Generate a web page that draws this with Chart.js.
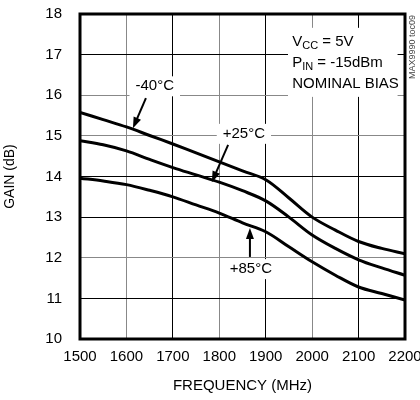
<!DOCTYPE html>
<html>
<head>
<meta charset="utf-8">
<script src="https://cdn.jsdelivr.net/npm/chart.js@4.4.1/dist/chart.umd.min.js"></script>
<style>
  html, body { margin: 0; padding: 0; background: #fff; }
  #wrap { width: 420px; height: 400px; }
</style>
</head>
<body>
<div id="wrap"><canvas id="grafico" width="420" height="400"></canvas></div>
<script>
// -------- DADOS --------
const freqs = [1500, 1550, 1600, 1650, 1700, 1750, 1800, 1850, 1900, 1950, 2000, 2050, 2100, 2150, 2200];
const gainM40 = [15.58, 15.40, 15.22, 15.01, 14.80, 14.58, 14.36, 14.14, 13.92, 13.47, 13.00, 12.68, 12.40, 12.23, 12.10];
const gainP25 = [14.88, 14.78, 14.63, 14.42, 14.22, 14.04, 13.86, 13.65, 13.40, 13.00, 12.56, 12.23, 11.95, 11.75, 11.57];
const gainP85 = [13.96, 13.89, 13.80, 13.66, 13.50, 13.30, 13.10, 12.86, 12.64, 12.27, 11.90, 11.57, 11.28, 11.12, 10.96];

const xMin = 1500, xMax = 2200, xStep = 100;
const yMin = 10, yMax = 18, yStep = 1;

// rotulos das curvas: texto, centro (freq, ganho), seta (cauda -> ponta)
const curveLabels = [
  { text: "-40°C", x: 1661, y: 16.22, from: [1642, 15.93], to: [1614, 15.19] },
  { text: "+25°C", x: 1853, y: 15.05, from: [1819, 14.78], to: [1784, 13.86] },
  { text: "+85°C", x: 1868, y: 11.72, from: [1866, 12.02], to: [1866, 12.73] }
];
const condLines = ["VCC", "PIN", "NOMINAL BIAS"];
const condBox = { x0: 1948, x1: 2184, y0: 15.96, y1: 17.66, textX: 1957, rows: [17.31, 16.79, 16.28] };
const watermark = "MAX9990 toc09";

// cinza / preto alternado como no original
const grayX = [1600, 1800, 2000];
const grayY = [15, 16, 12];

const FONTE = '"Liberation Sans", Arial, sans-serif';

function serie(vals) {
  return vals.map((v, i) => ({ x: freqs[i], y: v }));
}

// -------- PLUGIN: anotacoes e moldura --------
function seta(ctx, x1, y1, x2, y2) {
  const ang = Math.atan2(y2 - y1, x2 - x1);
  const len = 11, w = 4;
  ctx.strokeStyle = "#000";
  ctx.fillStyle = "#000";
  ctx.lineWidth = 2;
  ctx.beginPath();
  ctx.moveTo(x1, y1);
  ctx.lineTo(x2 - Math.cos(ang) * len * 0.8, y2 - Math.sin(ang) * len * 0.8);
  ctx.stroke();
  ctx.beginPath();
  ctx.moveTo(x2, y2);
  ctx.lineTo(x2 - Math.cos(ang) * len + Math.sin(ang) * w, y2 - Math.sin(ang) * len - Math.cos(ang) * w);
  ctx.lineTo(x2 - Math.cos(ang) * len - Math.sin(ang) * w, y2 - Math.sin(ang) * len + Math.cos(ang) * w);
  ctx.closePath();
  ctx.fill();
}

function textoSub(ctx, x, y, main, sub, rest) {
  ctx.font = "15px " + FONTE;
  ctx.fillText(main, x, y);
  let px = x + ctx.measureText(main).width;
  ctx.font = "11px " + FONTE;
  ctx.fillText(sub, px, y + 4);
  px += ctx.measureText(sub).width;
  ctx.font = "15px " + FONTE;
  ctx.fillText(rest, px, y);
}

const notas = {
  id: "notas",
  beforeDatasetsDraw(chart) {
    const { ctx, scales: { x, y } } = chart;
    ctx.save();
    ctx.font = "15px " + FONTE;
    ctx.textAlign = "center";
    ctx.textBaseline = "middle";
    curveLabels.forEach((l) => {
      const cx = x.getPixelForValue(l.x), cy = y.getPixelForValue(l.y);
      const w = ctx.measureText(l.text).width + 12;
      ctx.fillStyle = "#fff";
      ctx.fillRect(cx - w / 2, cy - 10, w, 20);
      ctx.fillStyle = "#000";
      ctx.fillText(l.text, cx, cy);
    });
    // caixa de condicoes
    const bx0 = x.getPixelForValue(condBox.x0), bx1 = x.getPixelForValue(condBox.x1);
    const by0 = y.getPixelForValue(condBox.y1), by1 = y.getPixelForValue(condBox.y0);
    ctx.fillStyle = "#fff";
    ctx.fillRect(bx0, by0, bx1 - bx0, by1 - by0);
    ctx.fillStyle = "#000";
    ctx.textAlign = "left";
    const tx = x.getPixelForValue(condBox.textX);
    textoSub(ctx, tx, y.getPixelForValue(condBox.rows[0]), "V", condLines[0].slice(1), " = 5V");
    textoSub(ctx, tx, y.getPixelForValue(condBox.rows[1]), "P", condLines[1].slice(1), " = -15dBm");
    ctx.font = "15px " + FONTE;
    ctx.fillText(condLines[2], tx, y.getPixelForValue(condBox.rows[2]));
    ctx.restore();
  },
  afterDatasetsDraw(chart) {
    const { ctx, chartArea: a, scales: { x, y } } = chart;
    ctx.save();
    curveLabels.forEach((l) => {
      seta(ctx, x.getPixelForValue(l.from[0]), y.getPixelForValue(l.from[1]),
        x.getPixelForValue(l.to[0]), y.getPixelForValue(l.to[1]));
    });
    // moldura
    ctx.strokeStyle = "#000";
    ctx.lineWidth = 3;
    ctx.strokeRect(a.left, a.top, a.right - a.left, a.bottom - a.top);
    // marca lateral
    ctx.translate(a.right + 8, a.top + 1);
    ctx.rotate(-Math.PI / 2);
    ctx.font = "9px " + FONTE;
    ctx.fillStyle = "#444";
    ctx.textAlign = "right";
    ctx.textBaseline = "middle";
    ctx.fillText(watermark, 0, 0);
    ctx.restore();
  }
};

// -------- GRAFICO --------
const linha = (vals) => ({
  data: serie(vals),
  borderColor: "#000",
  borderWidth: 3,
  pointRadius: 0,
  tension: 0.35,
  fill: false
});

new Chart(document.getElementById("grafico"), {
  type: "line",
  data: { datasets: [linha(gainM40), linha(gainP25), linha(gainP85)] },
  options: {
    responsive: false,
    animation: false,
    layout: { padding: { top: 14, right: 15, left: 0, bottom: 0 } },
    plugins: { legend: { display: false }, tooltip: { enabled: false } },
    scales: {
      x: {
        type: "linear",
        min: xMin, max: xMax,
        afterFit: (s) => { s.height = 61; s.paddingLeft = 0; s.paddingRight = 0; },
        ticks: {
          stepSize: xStep, color: "#000", padding: 9, maxRotation: 0,
          font: { family: FONTE, size: 15 },
          callback: (v) => String(v)
        },
        grid: {
          drawTicks: false,
          lineWidth: 1,
          color: (c) => grayX.includes(c.tick && c.tick.value) ? "#888" : "#000"
        },
        border: { display: false },
        title: { display: true, text: "FREQUENCY (MHz)", color: "#000", font: { family: FONTE, size: 15 }, padding: { top: 0, bottom: 5 } }
      },
      y: {
        min: yMin, max: yMax,
        afterFit: (s) => { s.width = 80; s.paddingTop = 0; s.paddingBottom = 0; },
        ticks: { stepSize: yStep, color: "#000", padding: 18, font: { family: FONTE, size: 15 } },
        grid: {
          drawTicks: false,
          lineWidth: 1,
          color: (c) => grayY.includes(c.tick && c.tick.value) ? "#888" : "#000"
        },
        border: { display: false },
        title: { display: true, text: "GAIN (dB)", color: "#000", font: { family: FONTE, size: 14 }, padding: { top: 2, bottom: 0 } }
      }
    }
  },
  plugins: [notas]
});
</script>
</body>
</html>
